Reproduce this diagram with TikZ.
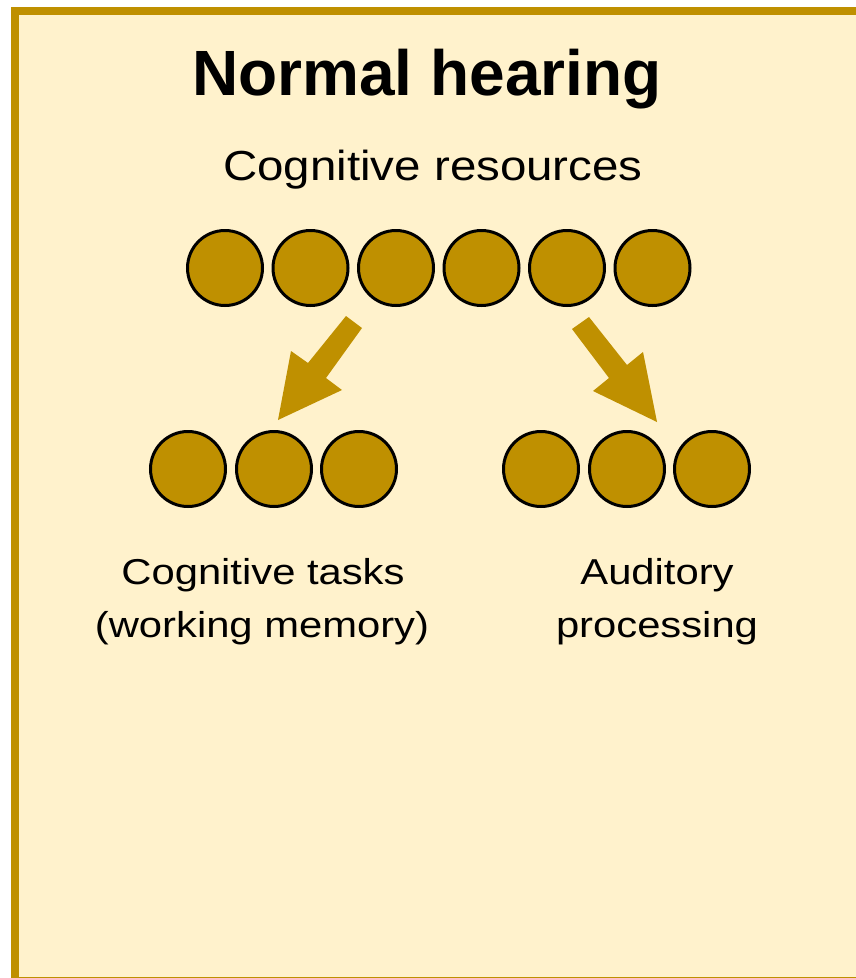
\documentclass[tikz,border=0pt]{standalone}
\usepackage{fontspec}
\setmainfont{Liberation Sans}
\usepackage{graphicx}
\definecolor{panelfill}{HTML}{FFF2CC}
\definecolor{gold}{HTML}{BF9000}
\begin{document}
\begin{tikzpicture}[x=1pt,y=-1pt,
  res/.style={circle,draw=black,line width=3pt,fill=gold,minimum size=75pt,inner sep=0pt},
  blockarrow/.style={fill=gold,draw=none},
  title/.style={anchor=base,inner sep=0pt,font=\fontsize{64}{77}\selectfont\bfseries},
  sub/.style={anchor=base,inner sep=0pt,font=\fontsize{42}{50}\selectfont},
  lbl/.style={anchor=base,inner sep=0pt,font=\fontsize{36}{53}\selectfont}]
\useasboundingbox (0,0) rectangle (856,978);
\begin{scope}
\clip (0,0) rectangle (856,978);
\draw[gold,line width=8pt,fill=panelfill] (15,11) rectangle (880,981);
\end{scope}
\node[title] (t) at (427,95) {Normal hearing};
\node[sub] (cr) at (433,180) {\scalebox{1.13}[1]{Cognitive resources}};
\foreach \i in {0,...,5} {
  \node[res] (r\i) at ({225+85.5*\i},268) {};
}
\node[res] (a1) at (188,469) {};
\node[res] (a2) at (274,469) {};
\node[res] (a3) at (359,469) {};
\node[res] (b1) at (541,469) {};
\node[res] (b2) at (627,469) {};
\node[res] (b3) at (712,469) {};
\fill[blockarrow] (346,316) -- (362,328) -- (326,378) -- (342,390) -- (278,420) -- (291,351) -- (308,363) -- cycle;
\fill[blockarrow] (589,317) -- (572,329) -- (609,378) -- (593,391) -- (657,422) -- (643,352) -- (627,365) -- cycle;
\node[lbl] (ct1) at (263,584) {\scalebox{1.16}[1]{Cognitive tasks}};
\node[lbl] (ct2) at (262,637) {\scalebox{1.16}[1]{(working memory)}};
\node[lbl] (ap1) at (657,584) {\scalebox{1.16}[1]{Auditory}};
\node[lbl] (ap2) at (657,637) {\scalebox{1.16}[1]{processing}};
\end{tikzpicture}
\end{document}
